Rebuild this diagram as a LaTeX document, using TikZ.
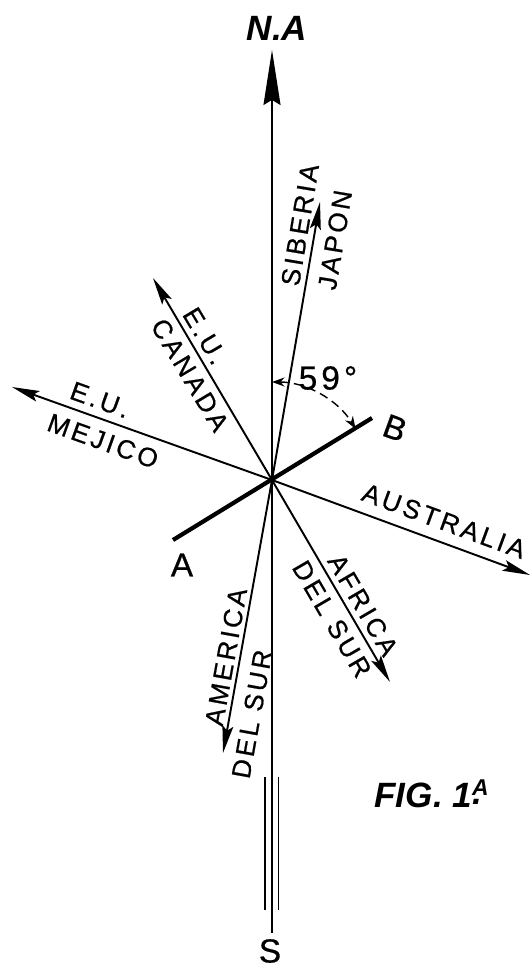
\documentclass[tikz,border=0pt]{standalone}
\usepackage{fontspec}
\setmainfont{Liberation Sans}
\newfontfamily\lettering{Liberation Sans}[LetterSpace=12, FakeBold=0.6]
\usetikzlibrary{arrows.meta}
\tikzset{
  dirarr/.style={-{Stealth[length=0.55cm,width=0.22cm,inset=0.1cm]}, line width=1.1pt},
  meridian/.style={line width=0.9pt},
  abline/.style={line width=2.4pt},
  dirlbl/.style={font=\lettering\fontsize{15}{15}\selectfont, inner sep=0pt},
  ptlbl/.style={font=\lettering\fontsize{19}{19}\selectfont, inner sep=0pt},
  titlbl/.style={font=\bfseries\itshape\fontsize{20}{20}\selectfont, inner sep=0pt},
  anglarc/.style={line width=0.8pt, dash pattern=on 5pt off 3pt,
    {Stealth[length=0.25cm,width=0.18cm]}-{Stealth[length=0.25cm,width=0.18cm]}},
}

\begin{document}
\begin{tikzpicture}[x=0.02cm, y=0.02cm]
  \useasboundingbox (0,0) rectangle (531,-967);

  % centre and arrow ends
  \coordinate (O)   at (272,-480);
  \coordinate (na)  at (272,-50);
  \coordinate (sur) at (272,-933);
  \coordinate (sib) at (320,-202);
  \coordinate (can) at (153,-278);
  \coordinate (mej) at (12,-387);
  \coordinate (aus) at (530,-575);
  \coordinate (afr) at (390,-682);
  \coordinate (ame) at (223,-753);
  \coordinate (ptA) at (173,-540);
  \coordinate (ptB) at (372,-418);
  \coordinate (tr1) at (272,-777);
  \coordinate (tr2) at (272,-910);

  % meridian N.A -- S
  \draw[meridian, -{Stealth[length=1.1cm,width=0.34cm,inset=0.1cm]}] (O) -- (na);
  \draw[meridian] (O) -- (sur);
  \draw[meridian] ([xshift=-0.14cm]tr1) -- ([xshift=-0.14cm]tr2);
  \draw[meridian] ([xshift=0.13cm]tr1) -- ([xshift=0.13cm]tr2);

  % line A-B
  \draw[abline] (ptA) -- (ptB);

  % directions
  \draw[dirarr] (O) -- (sib);
  \draw[dirarr] (O) -- (can);
  \draw[dirarr] (O) -- (mej);
  \draw[dirarr] (O) -- (aus);
  \draw[dirarr] (O) -- (afr);
  \draw[dirarr] (O) -- (ame);

  % angle
  \draw[anglarc] (O) ++(90:98) arc[start angle=90, end angle=31.5, radius=98];
  \node[ptlbl] (ang) at (328,-378) {59°};

  % labels
  \node[titlbl] (lna) at (277,-28) {N.A};
  \node[ptlbl]  (ls)  at (270,-951) {S};
  \node[ptlbl]  (lA)  at (182,-565) {A};
  \node[ptlbl, rotate=-20] (lB) at (395,-428) {B};

  \node[dirlbl, rotate=80.5]  (lsib) at (300,-225) {SIBERIA};
  \node[dirlbl, rotate=80.5]  (ljap) at (335,-240) {JAPON};
  \node[dirlbl, rotate=-59.2] (leu1) at (205,-336) {E.U.};
  \node[dirlbl, rotate=-59.2] (lcan) at (190,-375) {CANADA};
  \node[dirlbl, rotate=-19.7] (leu2) at (100,-400) {E.U.};
  \node[dirlbl, rotate=-19.7] (lmej) at (103,-441) {MEJICO};
  \node[dirlbl, rotate=-20.2] (laus) at (444,-521) {AUSTRALIA};
  \node[dirlbl, rotate=-59.7] (lafr) at (363,-605) {AFRICA};
  \node[dirlbl, rotate=-59.7] (lds1) at (332,-619) {DEL SUR};
  \node[dirlbl, rotate=79.8]  (lame) at (226,-657) {AMERICA};
  \node[dirlbl, rotate=79.8]  (lds2) at (252,-714) {DEL SUR};

  \node[titlbl] (lfig) at (432,-794)
    {FIG. 1\raisebox{0.35em}{\fontsize{13}{13}\selectfont A}\kern-0.45em\raisebox{0.1em}{.}\kern0.2em};
\end{tikzpicture}
\end{document}
